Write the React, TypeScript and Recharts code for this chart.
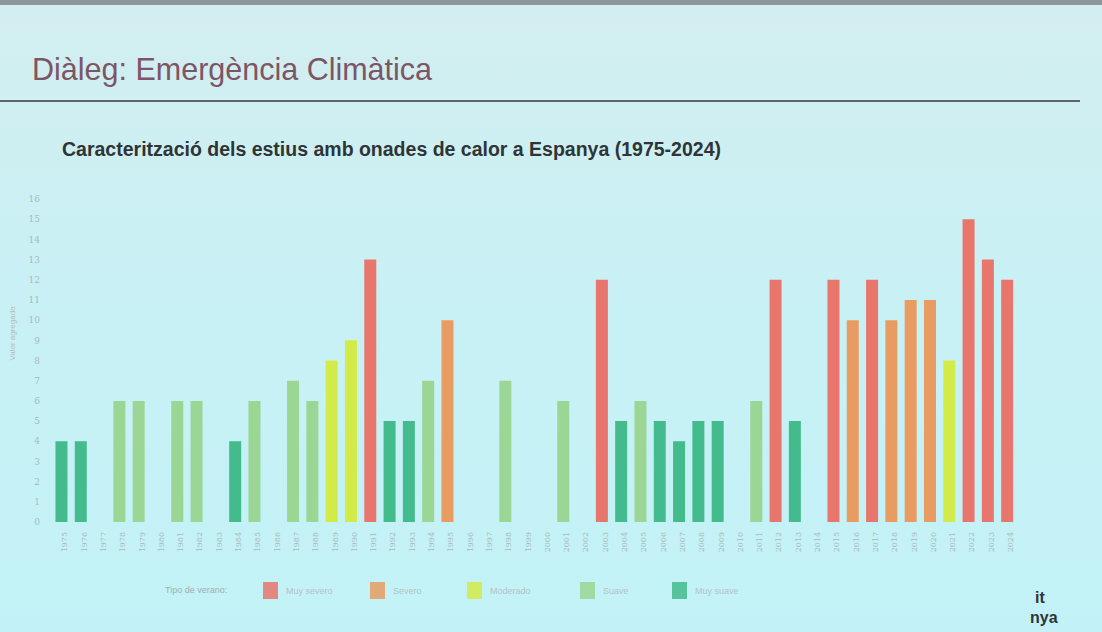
import {BarChart, Bar, XAxis, YAxis, Cell} from 'recharts';

const years = [
    1975, 1976, 1977, 1978, 1979, 1980, 1981, 1982, 1983, 1984,
    1985, 1986, 1987, 1988, 1989, 1990, 1991, 1992, 1993, 1994,
    1995, 1996, 1997, 1998, 1999, 2000, 2001, 2002, 2003, 2004,
    2005, 2006, 2007, 2008, 2009, 2010, 2011, 2012, 2013, 2014,
    2015, 2016, 2017, 2018, 2019, 2020, 2021, 2022, 2023, 2024,
];

// valor agregat per any (0 = sense onada de calor)
const values = [
    4, 4, 0, 6, 6, 0, 6, 6, 0, 4,
    6, 0, 7, 6, 8, 9, 13, 5, 5, 7,
    10, 0, 0, 7, 0, 0, 6, 0, 12, 5,
    6, 5, 4, 5, 5, 0, 6, 12, 5, 0,
    12, 10, 12, 10, 11, 11, 8, 15, 13, 12,
];

// 0 muy severo, 1 severo, 2 moderado, 3 suave, 4 muy suave
const types = [
    4, 4, 3, 3, 3, 3, 3, 3, 3, 4,
    3, 3, 3, 3, 2, 2, 0, 4, 4, 3,
    1, 3, 3, 3, 3, 3, 3, 3, 0, 4,
    3, 4, 4, 4, 4, 3, 3, 0, 4, 3,
    0, 1, 0, 1, 1, 1, 2, 0, 0, 0,
];

const typeLabels = ['Muy severo', 'Severo', 'Moderado', 'Suave', 'Muy suave'];
const typeColors = ['#e8766c', '#e89c62', '#d3eb48', '#9bd694', '#44bb8c'];

const yTicks = [0, 1, 2, 3, 4, 5, 6, 7, 8, 9, 10, 11, 12, 13, 14, 15, 16];

const data = years.map((y, i) => ({year: String(y), value: values[i], type: types[i]}));

const legendX = [263, 370, 467, 580, 672];

export default function App() {
    return (
        <div style={{
            position: 'absolute', left: 0, top: 0, width: 1102, height: 632, overflow: 'hidden',
            background: 'linear-gradient(180deg, #d3eef0 0%, #c8f1f5 50%, #c2f2f7 100%)',
            fontFamily: '"Liberation Sans", Arial, sans-serif',
        }}>
            <div style={{position: 'absolute', left: 0, top: 0, width: 1102, height: 5, background: '#8d9698'}}/>
            <div style={{position: 'absolute', left: 32, top: 52, fontSize: 30.5, color: '#7d5564'}}>
                Diàleg: Emergència Climàtica
            </div>
            <div style={{position: 'absolute', left: 0, top: 100, width: 1080, height: 2, background: '#5f6466'}}/>
            <div style={{position: 'absolute', left: 62, top: 138, fontSize: 19.5, fontWeight: 'bold', color: '#2f3436'}}>
                Caracterització dels estius amb onades de calor a Espanya (1975-2024)
            </div>

            <div style={{position: 'absolute', left: 0, top: 180}}>
                <BarChart width={1030} height={390} data={data}
                          margin={{top: 19, right: 13, left: 12, bottom: 0}}
                          barCategoryGap="18%">
                    <XAxis dataKey="year" interval={0} angle={-90} textAnchor="end" height={48}
                           axisLine={false} tickLine={false} tickMargin={4}
                           tick={{fontSize: 8, fill: '#a9b9bc', fontFamily: '"DejaVu Serif", serif'}}/>
                    <YAxis domain={[0, 16]} ticks={yTicks} interval={0} width={40}
                           axisLine={false} tickLine={false} tickMargin={6}
                           tick={{fontSize: 9, fill: '#a9b9bc', fontFamily: '"DejaVu Serif", serif'}}
                           label={{value: 'Valor agregado', angle: -90, position: 'insideLeft', offset: 0,
                               style: {fontSize: 8, fill: '#aebcbf'}}}/>
                    <Bar dataKey="value" isAnimationActive={false}>
                        {data.map((d) => (
                            <Cell key={d.year} fill={typeColors[d.type]}/>
                        ))}
                    </Bar>
                </BarChart>
            </div>

            <div style={{position: 'absolute', left: 165, top: 585, fontSize: 9, color: '#9fb0b2'}}>
                Tipo de verano:
            </div>
            {typeLabels.map((t, i) => (
                <div key={t} style={{position: 'absolute', left: legendX[i], top: 582, display: 'flex', alignItems: 'center'}}>
                    <div style={{width: 15, height: 17, background: typeColors[i], opacity: 0.85}}/>
                    <span style={{marginLeft: 8, fontSize: 9, color: '#b3c3c5'}}>{t}</span>
                </div>
            ))}

            <div style={{position: 'absolute', left: 1035, top: 588, fontSize: 16, fontWeight: 'bold', color: '#2f3436', lineHeight: '20px'}}>
                it<br/><span style={{marginLeft: -5}}>nya</span>
            </div>
        </div>
    );
}
